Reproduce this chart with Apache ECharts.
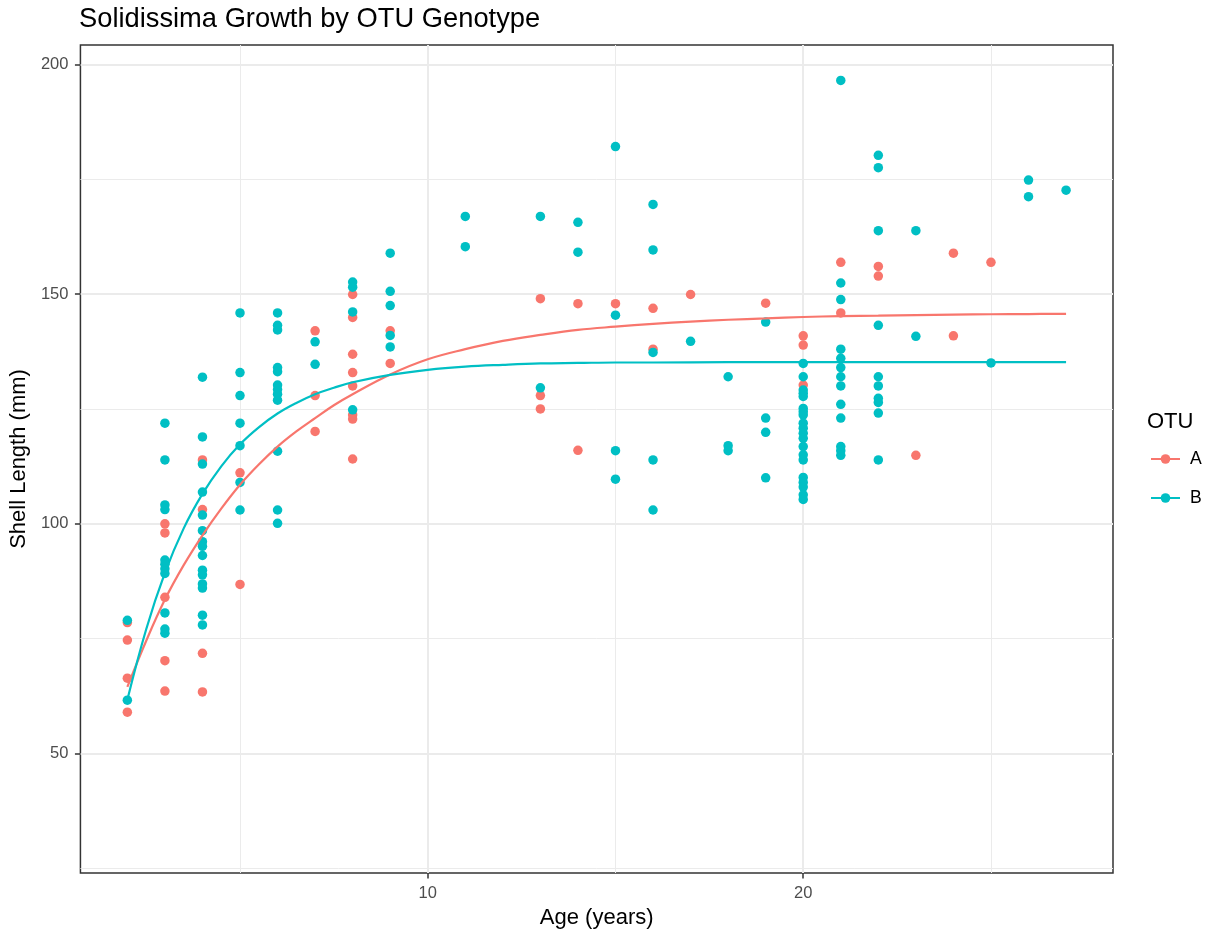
<!DOCTYPE html>
<html>
<head>
<meta charset="utf-8">
<title>Solidissima Growth by OTU Genotype</title>
<script src="https://cdn.jsdelivr.net/npm/echarts@6/dist/echarts.min.js"></script>
<style>
  html, body { margin: 0; padding: 0; background: #ffffff; }
  #chart { width: 1206px; height: 934px; }
</style>
</head>
<body>
<div id="chart"></div>
<script>
// Ages (years) at which shells were measured
const ages = [2, 3, 4, 5, 6, 7, 8, 9, 11, 13, 14, 15, 16, 17, 18, 19, 20, 21, 22, 23, 24, 25, 26, 27];

// Shell lengths (mm) of OTU A, one list per age above
const shellA = [
  [78.5, 74.7, 66.4, 59.0],
  [100.0, 98.0, 84.0, 70.2, 63.6],
  [113.9, 103.1, 71.8, 63.4],
  [111.1, 86.8],
  [],
  [142.0, 127.9, 120.1],
  [149.9, 144.9, 136.9, 132.9, 130.0, 123.7, 122.8, 114.1],
  [142.0, 134.9],
  [],
  [149.0, 127.9, 125.0],
  [147.9, 116.0],
  [147.9],
  [146.9, 138.0],
  [149.9],
  [],
  [148.0],
  [140.9, 138.9, 130.2],
  [156.9, 145.9],
  [156.0, 153.9],
  [114.9],
  [158.9, 140.9],
  [156.9],
  [],
  []
];

// Shell lengths (mm) of OTU B, one list per age above
const shellB = [
  [79.0, 61.6],
  [121.9, 113.9, 104.1, 103.1, 92.1, 91.2, 90.2, 89.2, 80.6, 77.1, 76.2],
  [131.9, 118.9, 113.0, 106.9, 101.9, 98.5, 96.1, 95.1, 93.1, 89.9, 88.9, 86.9, 86.0, 80.1, 78.0],
  [145.9, 132.9, 127.9, 121.9, 117.0, 109.0, 103.0],
  [145.9, 143.2, 142.2, 134.0, 133.1, 130.2, 129.2, 128.2, 126.9, 115.8, 103.0, 100.1],
  [139.6, 134.7],
  [152.6, 151.5, 146.1, 124.8],
  [158.9, 150.6, 147.5, 141.0, 138.5],
  [166.9, 160.3],
  [166.9, 129.6],
  [165.6, 159.1],
  [182.1, 145.4, 115.9, 109.7],
  [169.5, 159.6, 137.3, 113.9, 103.0],
  [139.7],
  [132.0, 117.0, 115.9],
  [143.9, 123.0, 119.9, 110.0],
  [134.9, 132.0, 129.1, 128.4, 127.7, 125.1, 124.4, 123.7, 121.9, 120.8, 119.7, 118.6, 116.8, 115.0, 113.9, 110.1, 109.0, 108.0, 106.3, 105.3],
  [196.5, 152.4, 148.8, 138.0, 136.0, 134.0, 132.0, 130.0, 126.0, 123.0, 116.8, 115.9, 114.9],
  [180.2, 177.5, 163.8, 143.2, 132.0, 130.0, 127.3, 126.4, 124.1, 113.9],
  [163.8, 140.8],
  [],
  [135.0],
  [174.8, 171.2],
  [172.6]
];

// Fitted growth curves (age, length)
const fitAgeA = [2, 2.5, 3, 3.5, 4, 4.5, 5, 5.5, 6, 6.5, 7, 7.5, 8, 9, 10, 11, 12, 13, 14, 15, 16, 17, 18, 19, 20, 21, 22, 23, 24, 25, 26, 27];
const fitA    = [64.5, 74.5, 83.5, 91.0, 97.5, 103.3, 108.5, 112.9, 116.8, 120.1, 123.0, 125.8, 128.2, 132.5, 135.8, 138.0, 139.8, 141.1, 142.2, 142.9, 143.5, 144.0, 144.4, 144.7, 145.0, 145.2, 145.3, 145.4, 145.5, 145.6, 145.65, 145.7];
const fitAgeB = [2, 2.5, 3, 3.5, 4, 4.5, 5, 5.5, 6, 6.5, 7, 7.5, 8, 9, 10, 11, 12, 13, 14, 15, 16, 18, 20, 22, 24, 27];
const fitB    = [61.7, 77.0, 89.3, 99.0, 106.5, 112.5, 117.3, 121.0, 124.0, 126.3, 128.2, 129.6, 130.8, 132.4, 133.5, 134.2, 134.6, 134.9, 135.0, 135.1, 135.1, 135.2, 135.2, 135.2, 135.2, 135.2];

// Axis breaks
const xMajor = [10, 20];
const xMinor = [5, 15, 25];
const yMajor = [50, 100, 150, 200];
const yMinor = [25, 75, 125, 175];

const FONT = '"Liberation Sans", Arial, Helvetica, sans-serif';
const COL_A = '#F8766D';
const COL_B = '#00BFC4';

function toPoints(lists) {
  const pts = [];
  lists.forEach((vals, i) => vals.forEach(v => pts.push([ages[i], v])));
  return pts;
}
function zip(xs, ys) { return xs.map((x, i) => [x, ys[i]]); }

const X_MIN = 0.75, X_MAX = 28.25;
const Y_MIN = 24.0, Y_MAX = 204.2;

const chart = echarts.init(document.getElementById('chart'), null, { renderer: 'canvas' });

const option = {
  animation: false,
  backgroundColor: '#ffffff',
  textStyle: { fontFamily: FONT },
  title: [
    {
      text: 'Solidissima Growth by OTU Genotype',
      left: 79, top: 6, padding: 0,
      textStyle: { fontFamily: FONT, fontSize: 27.3, fontWeight: 'normal', color: '#000000' }
    },
    {
      text: 'OTU',
      left: 1147, top: 411, padding: 0,
      textStyle: { fontFamily: FONT, fontSize: 22, fontWeight: 'normal', color: '#000000' }
    }
  ],
  legend: {
    data: ['A', 'B'],
    orient: 'vertical',
    left: 1150, top: 450, padding: 0,
    itemWidth: 29, itemHeight: 12, itemGap: 21,
    textStyle: { fontFamily: FONT, fontSize: 17.6, lineHeight: 18, color: '#000000', padding: [0, 0, 0, 5] }
  },
  grid: {
    left: 79, top: 45, width: 1034, height: 832,
    show: true, borderColor: '#333333', borderWidth: 1.5, backgroundColor: 'transparent'
  },
  xAxis: [
    {
      type: 'value', min: X_MIN, max: X_MAX,
      name: 'Age (years)', nameLocation: 'middle', nameGap: 34,
      nameTextStyle: { fontFamily: FONT, fontSize: 22, color: '#000000' },
      axisLine: { show: false },
      axisTick: { show: true, length: 5.5, customValues: xMajor, lineStyle: { color: '#333333', width: 1.5 } },
      axisLabel: { customValues: xMajor, fontFamily: FONT, fontSize: 16.5, color: '#4D4D4D', margin: 12 },
      splitLine: { show: true, lineStyle: { color: '#EBEBEB', width: 2 } }
    },
    {
      type: 'value', min: X_MIN, max: X_MAX, position: 'bottom',
      axisLine: { show: false },
      axisTick: { show: false, customValues: xMinor },
      axisLabel: { show: false, customValues: xMinor },
      splitLine: { show: true, lineStyle: { color: '#EBEBEB', width: 1 } }
    }
  ],
  yAxis: [
    {
      type: 'value', min: Y_MIN, max: Y_MAX,
      name: 'Shell Length (mm)', nameLocation: 'middle', nameGap: 47,
      nameTextStyle: { fontFamily: FONT, fontSize: 22, color: '#000000' },
      axisLine: { show: false },
      axisTick: { show: true, length: 5.5, customValues: yMajor, lineStyle: { color: '#333333', width: 1.5 } },
      axisLabel: { customValues: yMajor, fontFamily: FONT, fontSize: 16.5, color: '#4D4D4D', margin: 12 },
      splitLine: { show: true, lineStyle: { color: '#EBEBEB', width: 2 } }
    },
    {
      type: 'value', min: Y_MIN, max: Y_MAX, position: 'left',
      axisLine: { show: false },
      axisTick: { show: false, customValues: yMinor },
      axisLabel: { show: false, customValues: yMinor },
      splitLine: { show: true, lineStyle: { color: '#EBEBEB', width: 1 } }
    }
  ],
  series: [
    {
      name: 'A', type: 'line', z: 4,
      data: zip(fitAgeA, fitA),
      smooth: 0.4,
      symbol: 'circle', showSymbol: false,
      itemStyle: { color: COL_A },
      lineStyle: { color: COL_A, width: 2.2 },
      silent: true
    },
    {
      name: 'B', type: 'line', z: 4,
      data: zip(fitAgeB, fitB),
      smooth: 0.4,
      symbol: 'circle', showSymbol: false,
      itemStyle: { color: COL_B },
      lineStyle: { color: COL_B, width: 2.2 },
      silent: true
    },
    {
      name: 'A', type: 'scatter', z: 2,
      data: toPoints(shellA),
      symbol: 'circle', symbolSize: 9.5,
      itemStyle: { color: COL_A, opacity: 1 },
      silent: true
    },
    {
      name: 'B', type: 'scatter', z: 3,
      data: toPoints(shellB),
      symbol: 'circle', symbolSize: 9.5,
      itemStyle: { color: COL_B, opacity: 1 },
      silent: true
    }
  ]
};

chart.setOption(option);
</script>
</body>
</html>
